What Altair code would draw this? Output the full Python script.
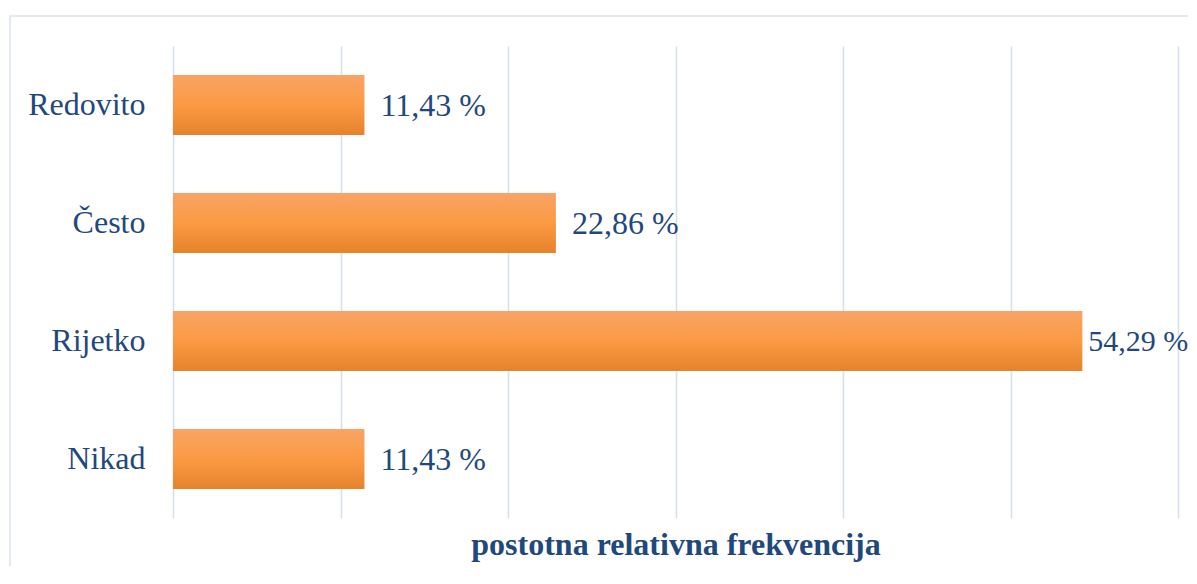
import altair as alt
import pandas as pd

categories = ["Redovito", "Često", "Rijetko", "Nikad"]
values = [11.43, 22.86, 54.29, 11.43]
labels = [f"{v:.2f}".replace(".", ",") + " %" for v in values]

df = pd.DataFrame({"cat": categories, "val": values, "lab": labels})

TEXT = "#1F497D"
FONT = "Liberation Serif"
FS = 32

y_enc = alt.Y("cat:N", sort=categories, title=None,
              scale=alt.Scale(paddingInner=0.49, paddingOuter=0.245),
              axis=alt.Axis(ticks=False, domain=False, labelFont=FONT, labelFontSize=FS,
                            labelColor=TEXT, labelPadding=28, grid=False))
x_enc = alt.X("val:Q", scale=alt.Scale(domain=[0, 60], nice=False),
              title="postotna relativna frekvencija",
              axis=alt.Axis(values=[0, 10, 20, 30, 40, 50, 60], labels=False, ticks=False,
                            domain=False, grid=True, gridColor="#D5E1F1", gridWidth=1.6,
                            titleFont=FONT, titleFontSize=FS, titleFontWeight="bold",
                            titleColor=TEXT, titlePadding=11))

grad = alt.Gradient(gradient="linear", x1=0, x2=0, y1=0, y2=1,
                    stops=[alt.GradientStop(offset=0, color="#F8A466"),
                           alt.GradientStop(offset=0.5, color="#FB9A43"),
                           alt.GradientStop(offset=1, color="#E5832D")])

border = alt.Chart(pd.DataFrame({"a": [0]})).mark_rect(
    fill="transparent", stroke="#D6E2F2", strokeWidth=1.5
).encode(x=alt.value(-163), x2=alt.value(1040), y=alt.value(-30), y2=alt.value(570))

bars = alt.Chart(df).mark_bar(color=grad).encode(x=x_enc, y=y_enc)

text_enc = dict(x="val:Q", y=alt.Y("cat:N", sort=categories), text="lab:N")
text_a = alt.Chart(df).transform_filter("datum.val < 50").mark_text(
    align="left", baseline="middle", dx=16, dy=1,
    font=FONT, fontSize=FS, color=TEXT).encode(**text_enc)
text_b = alt.Chart(df).transform_filter("datum.val >= 50").mark_text(
    align="left", baseline="middle", dx=6, dy=1,
    font=FONT, fontSize=30, color=TEXT).encode(**text_enc)

chart = alt.layer(border, bars, text_a, text_b).properties(
    width=1005, height=472,
    autosize=alt.AutoSizeParams(type="none"),
    padding={"left": 165, "top": 38, "right": 10, "bottom": 48},
).configure_view(stroke=None)

chart.save("out.html", embed_options={"renderer": "svg", "actions": False})
